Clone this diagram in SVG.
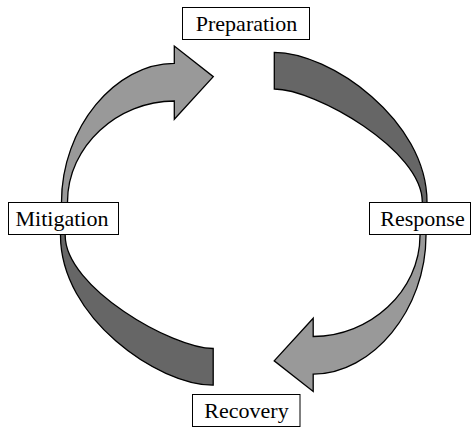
<svg xmlns="http://www.w3.org/2000/svg" width="471" height="429" viewBox="0 0 471 429">
<style>
.light{fill:#999999;stroke:#000;stroke-width:1.3;stroke-linejoin:miter}
.dark{fill:#666666;stroke:#000;stroke-width:1.3;stroke-linejoin:miter}
.box{fill:#fff;stroke:#000;stroke-width:1}
.lbl{font-family:"Liberation Serif","Times New Roman",serif;font-size:22px;fill:#000;text-anchor:middle}
</style>
<defs>
<path id="lightArrow" d="M61.5,206 L61.5,202 C61.5,128 115,63.3 174.3,63.3 L174.3,46 L213.3,76.7 L174.3,119.3 L174.3,101 C118,101 67.5,146 67.5,202 L67.5,206 Z"/>
<path id="darkBand" d="M274.3,52.3 C330,52.3 427,120 427,202 L427,206 L422.3,206 L422.3,202 C422.3,150 315,89 274.3,89 Z"/>
</defs>
<g id="connectors">
<use href="#lightArrow" class="light"/>
<use href="#darkBand" class="dark"/>
<use href="#lightArrow" class="light" transform="rotate(180 243.75 218.75)"/>
<use href="#darkBand" class="dark" transform="rotate(180 243.75 218.75)"/>
</g>
<g id="preparation">
<rect class="box" x="182.5" y="7.5" width="127" height="32"/>
<text class="lbl" x="246.5" y="30.5">Preparation</text>
</g>
<g id="mitigation">
<rect class="box" x="8.5" y="202.5" width="110" height="32"/>
<text class="lbl" x="62" y="225.5">Mitigation</text>
</g>
<g id="response">
<rect class="box" x="369.5" y="202.5" width="101" height="32"/>
<text class="lbl" x="422.5" y="225.5">Response</text>
</g>
<g id="recovery">
<rect class="box" x="192.5" y="394.5" width="107.5" height="32"/>
<text class="lbl" x="246.5" y="417.5">Recovery</text>
</g>
</svg>
